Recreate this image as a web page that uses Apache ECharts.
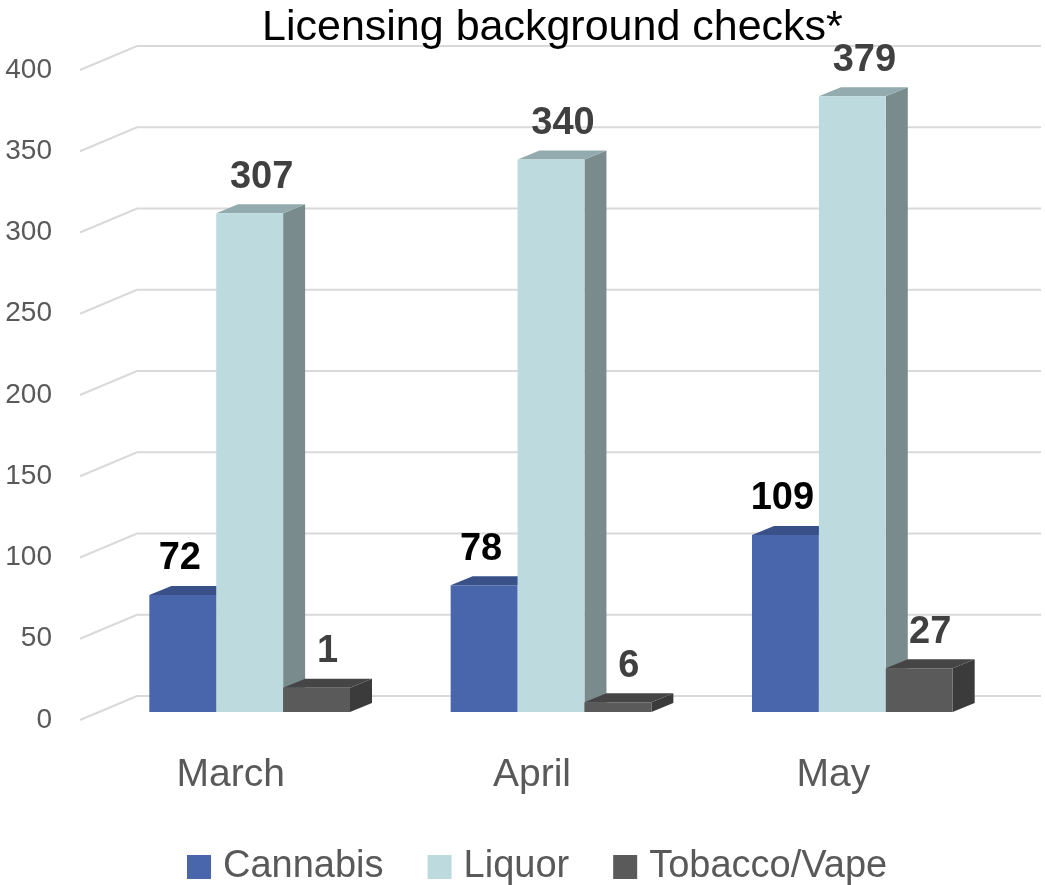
<!DOCTYPE html>
<html>
<head>
<meta charset="utf-8">
<script src="https://cdn.jsdelivr.net/npm/echarts@6/dist/echarts.min.js"></script>
<style>
  html, body { margin: 0; padding: 0; background: #fff; }
  #chart { width: 1045px; height: 885px; }
</style>
</head>
<body>
<div id="chart"></div>
<script>
const categories = ['March', 'April', 'May'];
const cannabis = [72, 78, 109];
const liquor = [307, 340, 379];
const tobacco = [15, 6, 27];          // bar heights as drawn
const tobaccoLabels = ['1', '6', '27']; // labels as printed
const yTicks = [0, 50, 100, 150, 200, 250, 300, 350, 400];

// fake 3d offsets (px)
const WALL = [57, -24];      // back wall relative to front plane
const FRONT = [19, -8];      // bar front face relative to front plane
const DEPTH = [22, -9];      // bar thickness
const BAR_RATIO = 0.222;

const FONT = 'Liberation Sans';

function gridRenderer(params, api) {
  const v = api.value(1);
  const cs = params.coordSys;
  const y = api.coord([0, v])[1];
  const left = cs.x, right = cs.x + cs.width;
  return {
    type: 'polyline',
    shape: { points: [[left, y], [left + WALL[0], y + WALL[1]], [right + WALL[0], y + WALL[1]]] },
    style: { stroke: '#d9d9d9', lineWidth: 2, fill: null }
  };
}

function barRenderer(slot, faces, labels, labelColor, labelShift) {
  return function (params, api) {
    const cat = api.value(0), val = api.value(1);
    const base = api.coord([cat, 0]);
    const top = api.coord([cat, val]);
    const w = api.size([1, 0])[0] * BAR_RATIO;
    const x0 = base[0] + FRONT[0] + (slot - 1.5) * w;
    const x1 = x0 + w;
    const yb = base[1] + FRONT[1];
    const yt = top[1] + FRONT[1];
    const dx = DEPTH[0], dy = DEPTH[1];
    return {
      type: 'group',
      children: [
        { type: 'polygon', shape: { points: [[x1, yt], [x1 + dx, yt + dy], [x1 + dx, yb + dy], [x1, yb]] },
          style: { fill: faces[2] } },
        { type: 'polygon', shape: { points: [[x0, yt], [x1, yt], [x1 + dx, yt + dy], [x0 + dx, yt + dy]] },
          style: { fill: faces[1] } },
        { type: 'rect', shape: { x: x0, y: yt, width: w, height: yb - yt },
          style: { fill: faces[0] } },
        { type: 'text', z2: 10,
          style: { text: labels[params.dataIndex], x: (x0 + x1) / 2 + labelShift, y: yt + dy - 8,
            align: 'center', verticalAlign: 'bottom', fill: labelColor,
            font: 'bold 38px "' + FONT + '"' } }
      ]
    };
  };
}

const chart = echarts.init(document.getElementById('chart'));
chart.setOption({
  animation: false,
  title: {
    text: 'Licensing background checks*',
    left: 257, top: 2,
    textStyle: { fontFamily: FONT, fontSize: 43, fontWeight: 'normal', color: '#000' }
  },
  legend: {
    data: ['Cannabis', 'Liquor', 'Tobacco/Vape'],
    left: 182, top: 843,
    icon: 'rect', itemWidth: 24, itemHeight: 24, itemGap: 44,
    textStyle: { fontFamily: FONT, fontSize: 38, color: '#595959', padding: [0, 0, 0, 7] }
  },
  grid: { left: 80, top: 70, width: 904, height: 650 },
  xAxis: {
    type: 'category', data: categories,
    axisLine: { show: false }, axisTick: { show: false },
    axisLabel: { fontFamily: FONT, fontSize: 39, color: '#595959', margin: 36 }
  },
  yAxis: {
    type: 'value', min: 0, max: 400, interval: 50,
    axisLine: { show: false }, axisTick: { show: false }, splitLine: { show: false },
    axisLabel: { fontFamily: FONT, fontSize: 28, color: '#595959', margin: 28 }
  },
  series: [
    { type: 'custom', name: 'grid', silent: true, z: 1, clip: false,
      data: yTicks.map(v => [0, v]), renderItem: gridRenderer },
    { type: 'custom', name: 'Cannabis', z: 2, clip: false, itemStyle: { color: '#4966ad' },
      data: cannabis.map((v, i) => [i, v]),
      renderItem: barRenderer(0, ['#4966ad', '#3a5088', '#33467a'], cannabis.map(String), '#000', -3) },
    { type: 'custom', name: 'Liquor', z: 2, clip: false, itemStyle: { color: '#bddbdf' },
      data: liquor.map((v, i) => [i, v]),
      renderItem: barRenderer(1, ['#bddbdf', '#93abae', '#7a8b8d'], liquor.map(String), '#404040', 12) },
    { type: 'custom', name: 'Tobacco/Vape', z: 2, clip: false, itemStyle: { color: '#5a5a5a' },
      data: tobacco.map((v, i) => [i, v]),
      renderItem: barRenderer(2, ['#5a5a5a', '#454545', '#3b3b3b'], tobaccoLabels, '#404040', 11) }
  ]
});
</script>
</body>
</html>
